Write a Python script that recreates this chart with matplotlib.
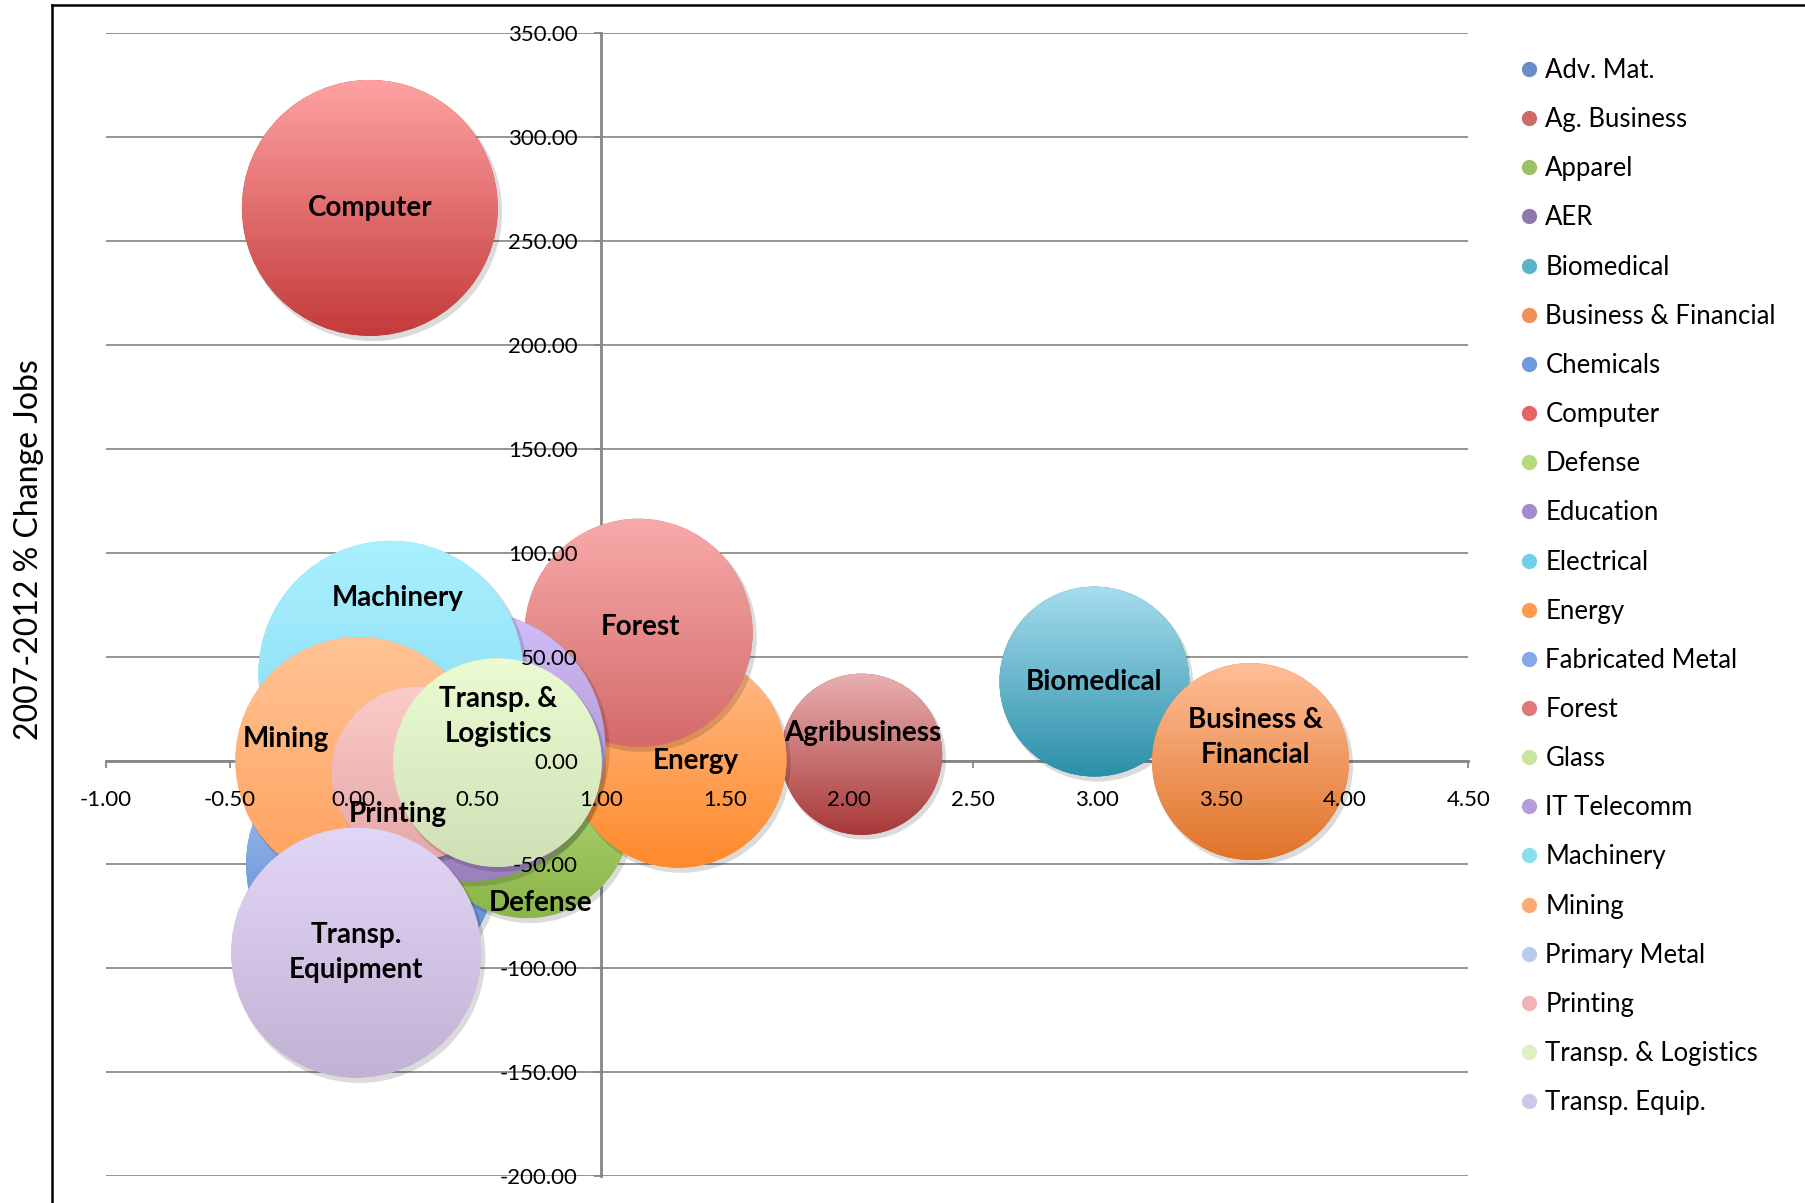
import numpy as np
import matplotlib.pyplot as plt
import matplotlib.transforms as mtransforms
from matplotlib.patches import Ellipse
from matplotlib.lines import Line2D
from matplotlib.colors import to_rgb

plt.rcParams['font.family'] = ['Lato', 'DejaVu Sans']
plt.rcParams['axes.unicode_minus'] = False

# all series as listed in the legend (Excel series order)
series_names = ["Adv. Mat.", "Ag. Business", "Apparel", "AER", "Biomedical",
                "Business & Financial", "Chemicals", "Computer", "Defense",
                "Education", "Electrical", "Energy", "Fabricated Metal", "Forest",
                "Glass", "IT Telecomm", "Machinery", "Mining", "Primary Metal",
                "Printing", "Transp. & Logistics", "Transp. Equip."]
legend_colors = ["#6a8cc6", "#d06a66", "#9cc066", "#8e78b0", "#5ab5cc",
                 "#f0915a", "#6e9ae0", "#e86464", "#b5db7a", "#a78acb",
                 "#70d0ec", "#ff9a50", "#85a8e6", "#e07878", "#c8e6a0",
                 "#b49ddb", "#8cddf0", "#ffaa70", "#b8ccef", "#f0b4b4",
                 "#ddf0c0", "#d0c6e6"]

# bubbles visible on the chart (drawn in series order)
bubble_series = ["Ag. Business", "Biomedical", "Business & Financial", "Chemicals",
                 "Computer", "Defense", "Energy", "Forest", "IT Telecomm",
                 "Machinery", "Mining", "Printing", "Transp. & Logistics",
                 "Transp. Equip."]
bubble_x = [2.05, 2.99, 3.62, 0.07, 0.065, 0.70, 1.31, 1.15, 0.47, 0.15, 0.02, 0.26, 0.58, 0.01]
bubble_y = [3.0, 38.0, -0.5, -50.0, 266.0, -26.0, 0.5, 61.5, 7.0, 42.0, 0.0, -6.0, -1.0, -92.5]
bubble_size = [260, 361, 388, 625, 655, 429, 469, 520, 729, 702, 608, 299, 435, 625]
bubble_labels = ["Agribusiness", "Biomedical", "Business &\nFinancial", "",
                 "Computer", "Defense", "Energy", "Forest", "",
                 "Machinery", "Mining", "Printing", "Transp. &\nLogistics",
                 "Transp.\nEquipment"]

x_ticks = np.arange(-1.0, 4.51, 0.5)
y_ticks = np.arange(-200, 351, 50)

# gradient (top, bottom) for each bubble
grad_colors = {
    "Ag. Business": ("#eab0b0", "#a83838"),
    "Biomedical": ("#a6dcee", "#2a8fa8"),
    "Business & Financial": ("#ffbe98", "#e07428"),
    "Chemicals": ("#aecbf4", "#4f7fcb"),
    "Computer": ("#ffa2a2", "#c43a3a"),
    "Defense": ("#c0e08a", "#8ab648"),
    "Energy": ("#ffbb8c", "#ff8a2a"),
    "Forest": ("#f8aaaa", "#d46a6a"),
    "IT Telecomm": ("#d2befa", "#9a80bc"),
    "Machinery": ("#aaf0ff", "#82d8f0"),
    "Mining": ("#ffc496", "#ffa05c"),
    "Printing": ("#fccaca", "#e6a8a8"),
    "Transp. & Logistics": ("#ecfcd2", "#d0e0b6"),
    "Transp. Equip.": ("#e2d6f6", "#c2b2d4"),
}
# label offsets from bubble centre, in pixels
label_offset = {
    "Machinery": (7, 75), "Forest": (2, 6), "Mining": (-73, 22),
    "Transp. & Logistics": (1, 46), "Printing": (-20, -41), "Energy": (18, -2),
    "Ag. Business": (1, 21), "Business & Financial": (5, 24), "Defense": (13, -88),
}

W, H = 1806, 1203
fig = plt.figure(figsize=(W / 100, H / 100), dpi=100)
pos = [106 / W, 1 - 1176 / H, 1362.5 / W, 1142.6 / H]

# background axes: gridlines, axis lines and tick marks (behind bubbles)
ax_bg = fig.add_axes(pos, zorder=0)
ax_bg.set_xlim(-1, 4.5)
ax_bg.set_ylim(-200, 350)
ax_bg.set_xticks(x_ticks)
ax_bg.set_yticks(y_ticks)
for s in ['top', 'right']:
    ax_bg.spines[s].set_visible(False)
ax_bg.spines['left'].set_position(('data', 1.0))
ax_bg.spines['bottom'].set_position(('data', 0.0))
for s in ['left', 'bottom']:
    ax_bg.spines[s].set_color('#868686')
    ax_bg.spines[s].set_linewidth(2)
ax_bg.tick_params(labelleft=False, labelbottom=False, direction='out',
                  length=5, width=1.3, color='#868686')
ax_bg.yaxis.grid(True, color='#8c8c8c', linewidth=1.3)
ax_bg.set_axisbelow(True)

# front axes: bubbles, tick labels and data labels
ax = fig.add_axes(pos, zorder=1)
ax.set_xlim(-1, 4.5)
ax.set_ylim(-200, 350)
ax.patch.set_alpha(0)
ax.set_xticks(x_ticks)
ax.set_yticks(y_ticks)
ax.xaxis.set_major_formatter('{x:.2f}')
ax.yaxis.set_major_formatter('{x:.2f}')
for s in ax.spines.values():
    s.set_visible(False)
ax.spines['left'].set_position(('data', 1.0))
ax.spines['bottom'].set_position(('data', 0.0))
ax.tick_params(axis='x', length=0, labelsize=16, pad=21)
ax.tick_params(axis='y', length=0, labelsize=16, pad=17)
ax.xaxis.set_zorder(300)
ax.yaxis.set_zorder(300)

bbox = ax.get_window_extent()
ppx = bbox.width / 5.5
ppy = bbox.height / 550.0
shadow_tr = mtransforms.offset_copy(ax.transData, fig=fig, x=3, y=-4, units='dots')

grad = np.linspace(0, 1, 256)[:, None, None]
for i, name in enumerate(bubble_series):
    x, y = bubble_x[i], bubble_y[i]
    d = 10 * np.sqrt(bubble_size[i])
    w, h = d / ppx, d / ppy
    z = 10 + 3 * i
    top, bot = grad_colors[name]
    sh = Ellipse((x, y), w * 1.01, h * 1.01, transform=shadow_tr,
                 facecolor='black', alpha=0.14, edgecolor='none', zorder=z)
    ax.add_patch(sh)
    base = Ellipse((x, y), w, h, facecolor=bot, edgecolor='none', zorder=z + 1)
    ax.add_patch(base)
    img = (1 - grad) * np.array(to_rgb(top)) + grad * np.array(to_rgb(bot))
    im = ax.imshow(img, extent=[x - w / 2, x + w / 2, y - h / 2, y + h / 2],
                   origin='upper', aspect='auto', interpolation='bilinear', zorder=z + 2)
    im.set_clip_path(base)
    if bubble_labels[i]:
        ax.annotate(bubble_labels[i], (x, y), xytext=label_offset.get(name, (0, 0)),
                    textcoords='offset pixels', ha='center', va='center',
                    fontsize=20, fontweight='bold', linespacing=1.4, zorder=400)

ax.set_xlim(-1, 4.5)
ax.set_ylim(-200, 350)

fig.text(29 / W, 1 - 550 / H, '2007-2012 % Change Jobs', rotation=90,
         ha='center', va='center', fontsize=23)

handles = [Line2D([], [], marker='o', linestyle='none', markersize=11,
                  markerfacecolor=c, markeredgecolor='none') for c in legend_colors]
fig.legend(handles, series_names, loc='upper left',
           bbox_to_anchor=(1521 / W, 1 - 58 / H), bbox_transform=fig.transFigure,
           frameon=False, fontsize=18.5, labelspacing=0.94, handlelength=0.65,
           handletextpad=0.3, borderpad=0, borderaxespad=0)

# chart area border (cut off at right and bottom)
fig.add_artist(Line2D([52 / W, 52 / W], [0, 1 - 5 / H], color='black', lw=1.8,
                      transform=fig.transFigure))
fig.add_artist(Line2D([52 / W, 1], [1 - 5 / H, 1 - 5 / H], color='black', lw=1.8,
                      transform=fig.transFigure))

fig.savefig('out.png', dpi=100)
